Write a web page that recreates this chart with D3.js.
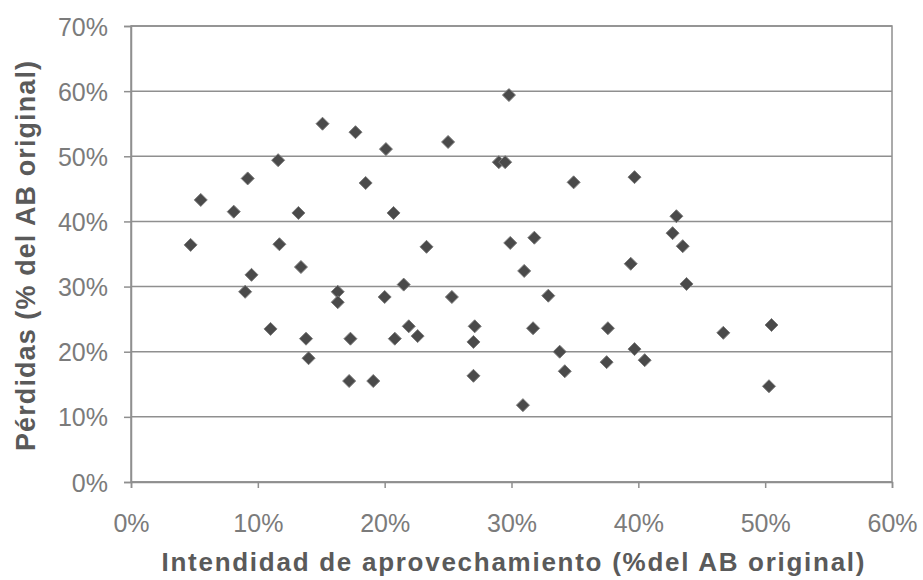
<!DOCTYPE html>
<html>
<head>
<meta charset="utf-8">
<script src="https://cdn.jsdelivr.net/npm/d3@7"></script>
<style>
  html, body { margin: 0; padding: 0; background: #fff; }
  svg { display: block; }
</style>
</head>
<body>
<svg id="chart" width="923" height="580"></svg>
<script>
// Intensidad de aprovechamiento vs pérdidas (fracciones del AB original)
const intensidad = [
  0.047, 0.055, 0.081, 0.090, 0.092, 0.095, 0.110, 0.116, 0.117, 0.132,
  0.134, 0.138, 0.140, 0.151, 0.163, 0.163, 0.172, 0.173, 0.177, 0.185,
  0.191, 0.200, 0.201, 0.207, 0.208, 0.215, 0.219, 0.226, 0.233, 0.250,
  0.253, 0.270, 0.270, 0.271, 0.290, 0.295, 0.298, 0.299, 0.309, 0.310,
  0.317, 0.318, 0.329, 0.338, 0.342, 0.349, 0.375, 0.376, 0.394, 0.397,
  0.397, 0.405, 0.427, 0.430, 0.435, 0.438, 0.467, 0.503, 0.505
];
const perdidas = [
  0.364, 0.433, 0.415, 0.292, 0.466, 0.318, 0.235, 0.494, 0.365, 0.413,
  0.330, 0.220, 0.190, 0.550, 0.292, 0.276, 0.155, 0.220, 0.537, 0.459,
  0.155, 0.284, 0.511, 0.413, 0.220, 0.303, 0.239, 0.224, 0.361, 0.522,
  0.284, 0.215, 0.163, 0.239, 0.491, 0.491, 0.594, 0.367, 0.118, 0.324,
  0.236, 0.375, 0.286, 0.200, 0.170, 0.460, 0.184, 0.236, 0.335, 0.468,
  0.204, 0.187, 0.382, 0.408, 0.362, 0.304, 0.229, 0.147, 0.241
];
const xTicks = [0, 0.1, 0.2, 0.3, 0.4, 0.5, 0.6];
const yTicks = [0, 0.1, 0.2, 0.3, 0.4, 0.5, 0.6, 0.7];
const xTitle = "Intendidad de aprovechamiento (%del AB original)";
const yTitle = "Pérdidas (% del AB original)";

const svg = d3.select("#chart");
const plot = { left: 131, right: 892, top: 26, bottom: 482 };

const x = d3.scaleLinear().domain([0, 0.6]).range([plot.left, plot.right]);
const y = d3.scaleLinear().domain([0, 0.7]).range([plot.bottom, plot.top]);
const pct = d3.format(".0%");

const gridColor = "#8f8f8f";
const labelColor = "#7b7b7b";
const titleColor = "#5a5a5a";
const font = "'Liberation Sans', Arial, sans-serif";

// horizontal gridlines
svg.append("g")
  .selectAll("line")
  .data(yTicks)
  .join("line")
  .attr("x1", plot.left).attr("x2", plot.right)
  .attr("y1", d => y(d)).attr("y2", d => y(d))
  .attr("stroke", gridColor).attr("stroke-width", 1.5);

// plot frame
svg.append("rect")
  .attr("x", plot.left).attr("y", plot.top)
  .attr("width", plot.right - plot.left).attr("height", plot.bottom - plot.top)
  .attr("fill", "none").attr("stroke", gridColor).attr("stroke-width", 1.5);

// y axis
const yAxis = svg.append("g")
  .attr("transform", `translate(${plot.left},0)`)
  .call(d3.axisLeft(y).tickValues(yTicks).tickFormat(pct).tickSize(7).tickPadding(16));
yAxis.select(".domain").attr("stroke", gridColor).attr("stroke-width", 1.5);
yAxis.selectAll(".tick line").attr("stroke", gridColor).attr("stroke-width", 1.5);
yAxis.selectAll(".tick text")
  .attr("fill", labelColor).attr("font-family", font).attr("font-size", 25)
  .attr("dy", "0.36em");

// x axis
const xAxis = svg.append("g")
  .attr("transform", `translate(0,${plot.bottom})`)
  .call(d3.axisBottom(x).tickValues(xTicks).tickFormat(pct).tickSize(6).tickPadding(26));
xAxis.select(".domain").attr("stroke", gridColor).attr("stroke-width", 1.5);
xAxis.selectAll(".tick line").attr("stroke", gridColor).attr("stroke-width", 1.5);
xAxis.selectAll(".tick text")
  .attr("fill", labelColor).attr("font-family", font).attr("font-size", 25);

// axis titles
svg.append("text")
  .attr("x", 513).attr("y", 571)
  .attr("text-anchor", "middle")
  .attr("font-family", font).attr("font-weight", "bold").attr("font-size", 26)
  .attr("fill", titleColor)
  .attr("textLength", 703).attr("lengthAdjust", "spacing")
  .text(xTitle);

svg.append("text")
  .attr("transform", "translate(35,256) rotate(-90)")
  .attr("text-anchor", "middle")
  .attr("font-family", font).attr("font-weight", "bold").attr("font-size", 27)
  .attr("fill", titleColor)
  .attr("textLength", 390).attr("lengthAdjust", "spacing")
  .text(yTitle);

// diamond markers
const r = 6.5;
const diamond = `M0,${-r}L${r},0L0,${r}L${-r},0Z`;
svg.append("g")
  .selectAll("path")
  .data(intensidad.map((v, i) => [v, perdidas[i]]))
  .join("path")
  .attr("d", diamond)
  .attr("transform", d => `translate(${x(d[0])},${y(d[1])})`)
  .attr("fill", "#4a4a4a")
  .attr("stroke", "#7a7a7a")
  .attr("stroke-width", 1);
</script>
</body>
</html>
